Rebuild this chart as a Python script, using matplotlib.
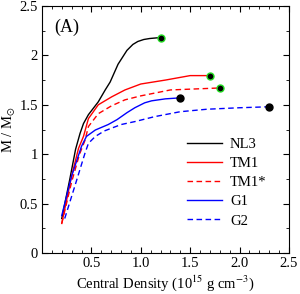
import numpy as np
import matplotlib
matplotlib.use("Agg")
import matplotlib.pyplot as plt
from matplotlib.ticker import MultipleLocator

plt.rcParams['font.family'] = ['Liberation Serif', 'DejaVu Serif']
plt.rcParams['mathtext.fontset'] = 'stix'

# mass vs central density curves
nl3_x = [0.2, 0.28, 0.34, 0.385, 0.42, 0.47, 0.57, 0.64, 0.69, 0.77, 0.86, 0.92, 0.97, 1.03, 1.09, 1.2]
nl3_y = [0.35, 0.74, 1.05, 1.21, 1.31, 1.40, 1.53, 1.65, 1.73, 1.91, 2.05, 2.11, 2.14, 2.16, 2.17, 2.18]

tm1_x = [0.2, 0.3, 0.37, 0.42, 0.47, 0.57, 0.705, 0.84, 1.0, 1.25, 1.5, 1.7]
tm1_y = [0.3, 0.78, 1.06, 1.18, 1.36, 1.50, 1.58, 1.65, 1.71, 1.75, 1.795, 1.795]

tm1s_x = [0.2, 0.3, 0.38, 0.435, 0.47, 0.57, 0.705, 0.84, 1.0, 1.3, 1.8]
tm1s_y = [0.3, 0.72, 1.0, 1.14, 1.28, 1.41, 1.49, 1.55, 1.59, 1.65, 1.67]

g1_x = [0.2, 0.3, 0.40, 0.45, 0.54, 0.67, 0.76, 0.86, 0.94, 1.04, 1.11, 1.25, 1.4]
g1_y = [0.38, 0.78, 1.08, 1.18, 1.245, 1.30, 1.35, 1.42, 1.47, 1.52, 1.54, 1.56, 1.57]

g2_x = [0.23, 0.33, 0.435, 0.47, 0.54, 0.63, 0.8, 0.94, 1.14, 1.4, 1.67, 2.0, 2.3]
g2_y = [0.35, 0.67, 1.01, 1.11, 1.18, 1.235, 1.30, 1.33, 1.38, 1.43, 1.455, 1.47, 1.48]

fig = plt.figure(figsize=(3.0, 2.94), dpi=100)
ax = fig.add_axes([0.14, 0.139, 0.823, 0.841])

ax.plot(nl3_x, nl3_y, color='black', lw=1.0, label='NL3')
ax.plot(tm1_x, tm1_y, color='red', lw=1.0, label='TM1')
ax.plot(tm1s_x, tm1s_y, color='red', lw=1.0, ls=(0, (4, 2.5)), label='TM1*')
ax.plot(g1_x, g1_y, color='blue', lw=1.0, label='G1')
ax.plot(g2_x, g2_y, color='blue', lw=1.0, ls=(0, (4, 2.5)), label='G2')

# maximum mass points
ax.plot([nl3_x[-1], tm1_x[-1], tm1s_x[-1]], [nl3_y[-1], tm1_y[-1], tm1s_y[-1]],
        'o', color='black', mec='#22dd22', mew=1.0, ms=5)
ax.plot([g1_x[-1], g2_x[-1]], [g1_y[-1], g2_y[-1]], 'o', color='black', ms=5)

ax.set_xlim(0, 2.5)
ax.set_ylim(0, 2.5)
ax.xaxis.set_minor_locator(MultipleLocator(0.1))
ax.yaxis.set_minor_locator(MultipleLocator(0.25))
ax.set_xticks([0.5, 1.0, 1.5, 2.0, 2.5])
ax.set_xticklabels(['0.5', '1.0', '1.5', '2.0', '2.5'])
ax.set_yticks([0, 0.5, 1, 1.5, 2, 2.5])
ax.set_yticklabels(['0', '0.5', '1', '1.5', '2', '2.5'])
ax.tick_params(which='both', direction='in', top=True, right=True, labelsize=10.5)
ax.tick_params(which='major', length=4, pad=3)
ax.tick_params(which='minor', length=2)

ax.set_xlabel(r'Central Density (10$^{15}$ g cm$^{-3}$)', fontsize=10.5, labelpad=2)
ax.set_ylabel(r'M / M$_{\odot}$', fontsize=10.5, labelpad=1)
ax.text(0.05, 0.915, '(A)', transform=ax.transAxes, fontsize=13, va='center')

ax.legend(loc='upper left', frameon=False, fontsize=10.5, handlelength=2.4,
          handletextpad=0.55, labelspacing=0.4, borderpad=0, borderaxespad=0,
          bbox_to_anchor=(0.587, 0.465))

fig.savefig('out.png', dpi=100)
